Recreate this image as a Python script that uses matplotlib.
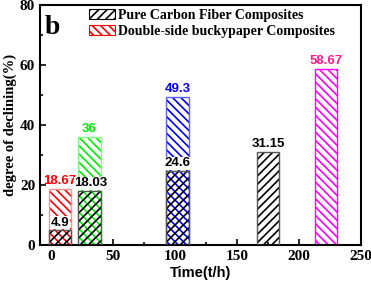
import matplotlib
matplotlib.use("Agg")
import matplotlib.pyplot as plt
from matplotlib.patches import Patch

# pure carbon fiber composites
pure_t = [7, 31, 102, 175]
pure_val = [4.9, 18.03, 24.6, 31.15]

# double-side buckypaper composites
bucky_t = [7, 31, 102, 222]
bucky_val = [18.67, 36, 49.3, 58.67]
bucky_hatch_col = ["#ff0000", "#00ee00", "#0000ff", "#ff00ff"]
bucky_edge_col = ["#ff9090", "#80ff80", "#6060ff", "#ff00ff"]
bucky_text_col = ["#ff0000", "#00ee00", "#0000ff", "#ff1a8c"]

serif = "Liberation Serif"
sans = "Liberation Sans"
plt.rcParams["hatch.linewidth"] = 1.2

fig = plt.figure(figsize=(3.71, 2.81), dpi=100)
ax = fig.add_axes([40 / 371, 1 - 245 / 281, 321 / 371, 240 / 281])

w = 18
for t, v, hc, ec in zip(bucky_t, bucky_val, bucky_hatch_col, bucky_edge_col):
    ax.bar(t, v, width=w, facecolor="white", edgecolor=hc, hatch="\\\\\\\\", linewidth=0, zorder=2)
    ax.bar(t, v, width=w, facecolor="none", edgecolor=ec, linewidth=1.0, zorder=2.5)

for t, v in zip(pure_t, pure_val):
    ax.bar(t, v, width=w, facecolor="none", edgecolor="black", hatch="////", linewidth=0, zorder=3)
    ax.bar(t, v, width=w, facecolor="none", edgecolor="#555555", linewidth=1.0, zorder=3.5)

lbl = dict(fontfamily=sans, fontweight="bold", fontsize=9.5, ha="center", va="bottom", zorder=5)
for t, v, c in zip(bucky_t, bucky_val, bucky_text_col):
    ax.text(t, v + 0.6, f"{v:g}", color=c, **lbl)
for t, v in zip(pure_t, pure_val):
    ax.text(t + (1 if t == 31 else 0), v + 0.6, f"{v:g}", color="black",
            bbox=dict(facecolor="white", edgecolor="none", pad=0.3), **lbl)

ax.set_xlim(-9, 250)
ax.set_ylim(0, 80)
ax.set_xticks([0, 50, 100, 150, 200, 250])
ax.set_xticks([25, 75, 125, 175, 225], minor=True)
ax.set_yticks([0, 20, 40, 60, 80])
ax.set_yticks([10, 30, 50, 70], minor=True)
ax.tick_params(which="both", direction="in", width=1.2)
ax.tick_params(which="major", length=4, labelsize=11)
ax.tick_params(which="minor", length=2.5)
for lab in ax.get_xticklabels() + ax.get_yticklabels():
    lab.set_fontfamily(serif)
    lab.set_fontweight("bold")
for s in ax.spines.values():
    s.set_linewidth(1.5)

ax.set_xlabel("Time(t/h)", fontfamily=sans, fontweight="bold", fontsize=10.5, labelpad=2)
ax.set_ylabel("degree of declining(%)", fontfamily=serif, fontweight="bold", fontsize=10.5, labelpad=2)
ax.text(0.015, 0.96, "b", transform=ax.transAxes, fontfamily=serif, fontweight="bold",
        fontsize=20, va="top", ha="left")

handles = [Patch(facecolor="white", edgecolor="black", hatch="////", linewidth=0.8),
           Patch(facecolor="white", edgecolor="red", hatch="\\\\\\\\", linewidth=0.8)]
ax.legend(handles, ["Pure Carbon Fiber Composites", "Double-side buckypaper Composites"],
          loc="upper left", bbox_to_anchor=(0.153, 0.985), frameon=False,
          prop=dict(family=serif, weight="bold", size=10), handlelength=1.85,
          handleheight=0.75, handletextpad=0.2, labelspacing=0.25, borderpad=0,
          borderaxespad=0)

fig.savefig("out.png", dpi=100)
